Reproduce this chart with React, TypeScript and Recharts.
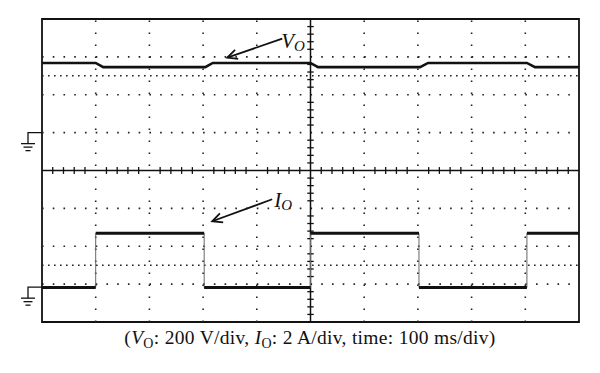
import React from "react";
import { LineChart, Line, XAxis, YAxis, ReferenceLine, ReferenceArea, ReferenceDot } from "recharts";

// Time in divisions (100 ms/div), amplitude in divisions
const voTime = [0, 1.0, 1.14, 3.04, 3.18, 5.0, 5.14, 7.04, 7.19, 9.03, 9.18, 10];
const voValue = [2.84, 2.84, 2.73, 2.73, 2.84, 2.84, 2.73, 2.73, 2.84, 2.84, 2.73, 2.73];
const ioTime = [0, 1.0, 1.0, 3.02, 3.02, 5.0, 5.0, 7.02, 7.02, 9.03, 9.03, 10];
const ioValue = [-3.09, -3.09, -1.66, -1.66, -3.09, -3.09, -1.66, -1.66, -3.09, -3.09, -1.66, -1.66];
const groundLevels = [1.0, -3.08];
const gridX = [1, 2, 3, 4, 6, 7, 8, 9];
const gridY = [3, 2, 1, -1, -2, -3];
const cursorY = [2.5, -2.5];

const voData = voTime.map((t, i) => ({ t, v: voValue[i] }));
const ioThinData = ioTime.map((t, i) => ({ t, v: ioValue[i] }));
const ioThickData: { t: number; v: number | null }[] = [];
ioTime.forEach((t, i) => {
  ioThickData.push({ t, v: ioValue[i] });
  if (i % 2 === 1) ioThickData.push({ t, v: null });
});

const minorX: number[] = [];
for (let k = 1; k < 50; k++) if (k % 5 !== 0) minorX.push(k / 5);
const minorY: number[] = [];
for (let k = -19; k < 20; k++) if (k % 5 !== 0) minorY.push(k / 5);

const serif = "'Liberation Serif', 'DejaVu Serif', serif";

const Ground = (props: any) => {
  const { cx, cy } = props;
  const gx = cx - 14;
  return (
    <g stroke="#111" strokeWidth={1.3} fill="none">
      <polyline points={`${cx},${cy} ${gx},${cy} ${gx},${cy + 11}`} />
      <line x1={gx - 7} y1={cy + 11} x2={gx + 7} y2={cy + 11} />
      <line x1={gx - 4.5} y1={cy + 14.5} x2={gx + 4.5} y2={cy + 14.5} />
      <line x1={gx - 2.5} y1={cy + 18} x2={gx + 2.5} y2={cy + 18} />
    </g>
  );
};

const makeArrowLabel = (dx: number, dy: number, tx: number, ty: number, main: string) => (props: any) => {
  const { cx, cy } = props;
  const len = Math.hypot(dx, dy);
  const ux = dx / len;
  const uy = dy / len;
  const ang = 0.45;
  const hl = 11;
  const rot = (a: number) => ({
    x: cx + hl * (ux * Math.cos(a) - uy * Math.sin(a)),
    y: cy + hl * (ux * Math.sin(a) + uy * Math.cos(a)),
  });
  const b1 = rot(ang);
  const b2 = rot(-ang);
  return (
    <g>
      <line x1={cx} y1={cy} x2={cx + dx} y2={cy + dy} stroke="#111" strokeWidth={1.8} />
      <polyline points={`${b1.x},${b1.y} ${cx},${cy} ${b2.x},${b2.y}`} stroke="#111" strokeWidth={1.8} fill="none" />
      <text x={cx + tx} y={cy + ty} fontFamily={serif} fontStyle="italic" fontSize={21} fill="#111">
        {main}
        <tspan fontSize={15} dy={3}>O</tspan>
      </text>
    </g>
  );
};

const VoLabel = makeArrowLabel(55, -19, 54, -10, "V");
const IoLabel = makeArrowLabel(60, -22, 62, -14, "I");

export default function App() {
  return (
    <div style={{ position: "absolute", left: 0, top: 0, width: 600, height: 373, background: "#fff" }}>
      <LineChart width={600} height={373} margin={{ top: 19, right: 21, bottom: 51, left: 42 }}>
        <XAxis type="number" dataKey="t" domain={[0, 10]} hide allowDataOverflow />
        <YAxis type="number" domain={[-4, 4]} hide allowDataOverflow />
        {gridY.map((y) => (
          <ReferenceLine key={`gy${y}`} y={y} stroke="#222" strokeWidth={1.6} strokeDasharray="1.6 9.14" />
        ))}
        {gridX.map((x) => (
          <ReferenceLine key={`gx${x}`} x={x} stroke="#222" strokeWidth={1.6} strokeDasharray="1.6 10.4" />
        ))}
        {cursorY.map((y) => (
          <ReferenceLine key={`cy${y}`} y={y} stroke="#222" strokeWidth={1.6} strokeDasharray="1.6 4.4" />
        ))}
        <ReferenceLine y={0} stroke="#111" strokeWidth={1.5} />
        <ReferenceLine x={5} stroke="#111" strokeWidth={1.5} />
        {minorX.map((x) => (
          <ReferenceLine key={`tx${x}`} segment={[{ x, y: -0.09 }, { x, y: 0.09 }]} stroke="#111" strokeWidth={1.3} />
        ))}
        {minorY.map((y) => (
          <ReferenceLine key={`ty${y}`} segment={[{ x: 4.94, y }, { x: 5.06, y }]} stroke="#111" strokeWidth={1.3} />
        ))}
        <ReferenceArea x1={0} x2={10} y1={-4} y2={4} fill="none" fillOpacity={0} stroke="#111" strokeWidth={1.8} />
        <Line data={voData} dataKey="v" type="linear" stroke="#111" strokeWidth={2.6} dot={false} isAnimationActive={false} />
        <Line data={ioThinData} dataKey="v" type="linear" stroke="#666" strokeWidth={1} dot={false} isAnimationActive={false} />
        <Line data={ioThickData} dataKey="v" type="linear" stroke="#111" strokeWidth={3} dot={false} connectNulls={false} isAnimationActive={false} />
        {groundLevels.map((g) => (
          <ReferenceDot key={`g${g}`} x={0} y={g} r={0} ifOverflow="visible" shape={<Ground />} />
        ))}
        <ReferenceDot x={3.45} y={2.98} r={0} ifOverflow="visible" shape={<VoLabel />} />
        <ReferenceDot x={3.17} y={-1.34} r={0} ifOverflow="visible" shape={<IoLabel />} />
      </LineChart>
      <div
        style={{
          position: "absolute",
          left: 0,
          top: 327,
          width: 620,
          textAlign: "center",
          fontFamily: serif,
          fontSize: 19.5,
          letterSpacing: 0.3,
          color: "#111",
          whiteSpace: "nowrap",
          lineHeight: "22px",
        }}
      >
        (<i>V</i><sub style={{ fontSize: 14, verticalAlign: "-4px" }}>O</sub>: 200 V/div, <i>I</i>
        <sub style={{ fontSize: 14, verticalAlign: "-4px" }}>O</sub>: 2 A/div, time: 100 ms/div)
      </div>
    </div>
  );
}
